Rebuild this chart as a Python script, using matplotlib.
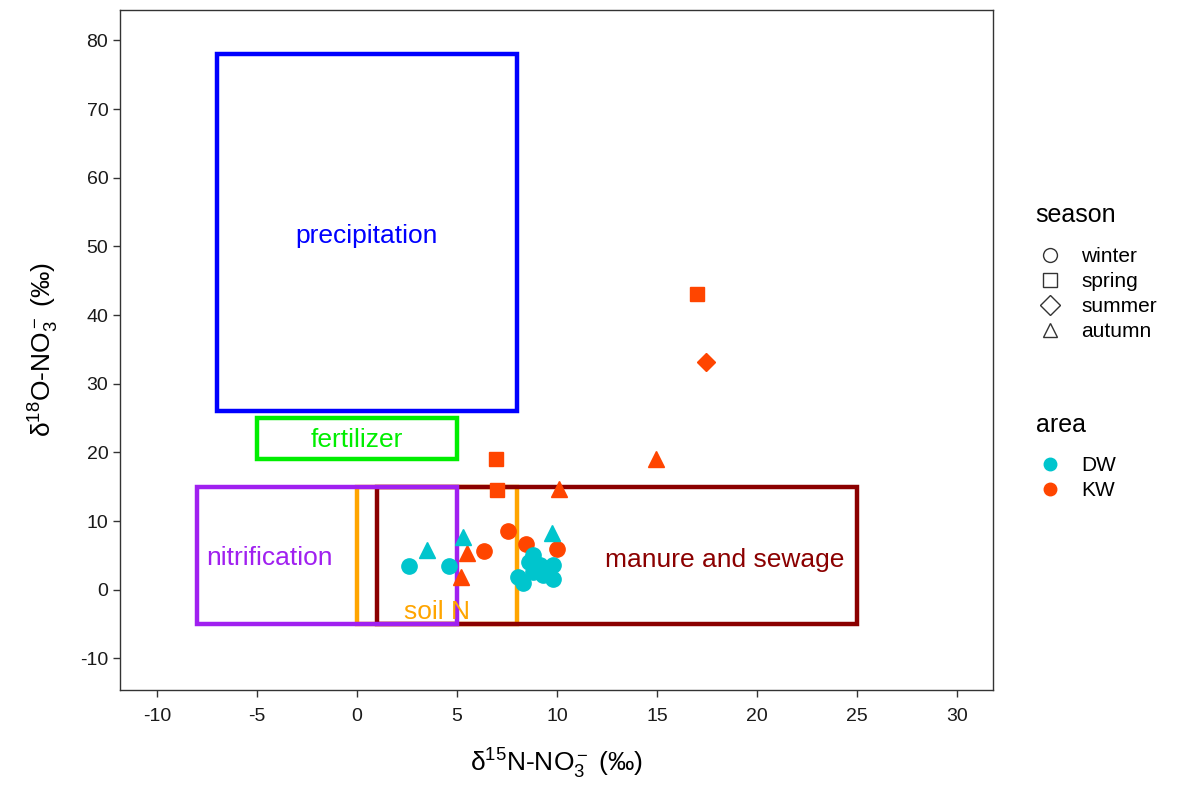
import matplotlib.pyplot as plt
from matplotlib.lines import Line2D
from matplotlib.patches import Rectangle

plt.rcParams['font.family'] = ['Liberation Sans', 'DejaVu Sans']
plt.rcParams['mathtext.fontset'] = 'custom'
plt.rcParams['mathtext.rm'] = 'Liberation Sans'
plt.rcParams['mathtext.it'] = 'Liberation Sans:italic'
plt.rcParams['axes.unicode_minus'] = False

# sample data: d15N, d18O, season, area
d15n = [17.0, 17.45, 14.95, 6.95, 7.0, 10.1, 7.55, 8.45, 10.0, 6.35, 5.5, 5.2,
        2.6, 3.5, 4.6, 5.3, 9.75, 8.05, 8.3, 8.8, 9.15, 9.8, 9.8, 9.3, 8.8, 8.6, 9.5]
d18o = [43.0, 33.2, 19.1, 19.1, 14.6, 14.7, 8.6, 6.6, 6.0, 5.7, 5.4, 1.9,
        3.5, 5.8, 3.5, 7.7, 8.3, 1.9, 1.0, 5.1, 3.6, 3.6, 1.5, 2.2, 2.6, 4.0, 3.0]
season = ['spring', 'summer', 'autumn', 'spring', 'spring', 'autumn', 'winter', 'winter',
          'winter', 'winter', 'autumn', 'autumn',
          'winter', 'autumn', 'winter', 'autumn', 'autumn', 'winter', 'winter', 'winter',
          'winter', 'winter', 'winter', 'winter', 'winter', 'winter', 'winter']
area = ['KW'] * 12 + ['DW'] * 15

# source boxes: name, x0, x1, y0, y1, colour, label position
boxes = [
    ('soil N', 0, 8, -5, 15, '#FFA500', (4, -3.2)),
    ('manure and sewage', 1, 25, -5, 15, '#8B0000', (18.4, 4.4)),
    ('nitrification', -8, 5, -5, 15, '#A020F0', (-4.4, 4.6)),
    ('fertilizer', -5, 5, 19, 25, '#00EE00', (0, 21.8)),
    ('precipitation', -7, 8, 26, 78, '#0000FF', (0.5, 51.5)),
]

shapes = {'winter': 'o', 'spring': 's', 'summer': 'D', 'autumn': '^'}
sizes = {'winter': 11, 'spring': 9.5, 'summer': 9, 'autumn': 11.5}
colors = {'DW': '#00C5CD', 'KW': '#FF4500'}

fig = plt.figure(figsize=(11.89, 7.85), dpi=100)
ax = fig.add_axes([0.101, 0.121, 0.734, 0.866])

for name, x0, x1, y0, y1, c, (tx, ty) in boxes:
    ax.add_patch(Rectangle((x0, y0), x1 - x0, y1 - y0, fill=False,
                           edgecolor=c, linewidth=3.2, zorder=2))
    ax.text(tx, ty, name, color=c, fontsize=19, ha='center', va='center', zorder=4)

for x, y, s, a in zip(d15n, d18o, season, area):
    ax.plot(x, y, marker=shapes[s], markersize=sizes[s], color=colors[a],
            linestyle='none', zorder=3)

ax.set_xlim(-11.85, 31.8)
ax.set_ylim(-14.6, 84.4)
ax.set_xticks(range(-10, 31, 5))
ax.set_yticks(range(-10, 81, 10))
ax.tick_params(labelsize=14, length=5, width=1, color='#333333', labelcolor='#1a1a1a')
ax.tick_params(axis='x', pad=8)
for sp in ax.spines.values():
    sp.set_color('#333333')
    sp.set_linewidth(1)
ax.set_xlabel(r'$\mathregular{\delta^{15}N}$-NO$_3^-$ (‰)', fontsize=19, labelpad=16)
ax.set_ylabel(r'$\mathregular{\delta^{18}O}$-NO$_3^-$ (‰)', fontsize=19, labelpad=14)

# legends: titles drawn separately to get ggplot-like spacing
fig.text(0.871, 0.726, 'season', fontsize=18, ha='left', va='center')
season_handles = [Line2D([], [], marker=shapes[k], linestyle='none', markersize=10,
                         markerfacecolor='none', markeredgecolor='#333333', label=k)
                  for k in ['winter', 'spring', 'summer', 'autumn']]
fig.legend(handles=season_handles, loc='upper left', bbox_to_anchor=(0.8726, 0.685),
           frameon=False, fontsize=15, handletextpad=0.9, labelspacing=0.29,
           handlelength=1.2, borderaxespad=0, borderpad=0)

fig.text(0.871, 0.459, 'area', fontsize=18, ha='left', va='center')
area_handles = [Line2D([], [], marker='o', linestyle='none', markersize=9,
                       color=colors[k], label=k) for k in ['DW', 'KW']]
fig.legend(handles=area_handles, loc='upper left', bbox_to_anchor=(0.8726, 0.419),
           frameon=False, fontsize=15, handletextpad=0.9, labelspacing=0.29,
           handlelength=1.2, borderaxespad=0, borderpad=0)

fig.savefig('out.png', dpi=100)
